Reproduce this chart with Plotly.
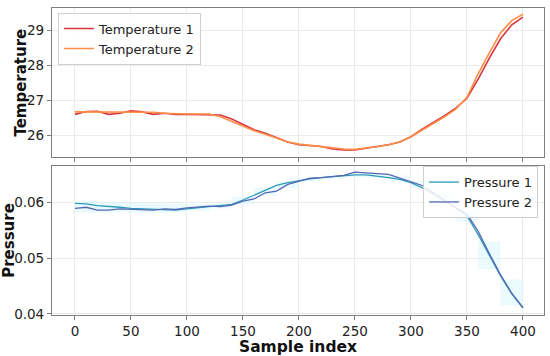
import plotly.graph_objects as go
from plotly.subplots import make_subplots

sample_idx = list(range(0, 401, 10))

temperature_1 = [26.59, 26.67, 26.68, 26.59, 26.62, 26.69, 26.66, 26.59, 26.62, 26.59,
                 26.59, 26.59, 26.59, 26.57, 26.46, 26.30, 26.15, 26.05, 25.92, 25.80,
                 25.72, 25.70, 25.67, 25.60, 25.57, 25.57, 25.62, 25.68, 25.72, 25.80,
                 25.95, 26.17, 26.35, 26.55, 26.77, 27.05, 27.60, 28.20, 28.75, 29.15,
                 29.37]
temperature_2 = [26.66, 26.66, 26.67, 26.66, 26.66, 26.67, 26.66, 26.65, 26.62, 26.60,
                 26.60, 26.60, 26.60, 26.52, 26.38, 26.24, 26.12, 26.02, 25.90, 25.80,
                 25.74, 25.70, 25.66, 25.62, 25.60, 25.59, 25.62, 25.67, 25.72, 25.80,
                 25.95, 26.15, 26.33, 26.52, 26.74, 27.08, 27.75, 28.35, 28.92, 29.27,
                 29.45]

pressure_1 = [0.0598, 0.0597, 0.0594, 0.0593, 0.0591, 0.0589, 0.0588, 0.0587, 0.0586, 0.0586,
              0.0588, 0.0590, 0.0592, 0.0593, 0.0596, 0.0604, 0.0613, 0.0622, 0.0630, 0.0635,
              0.0639, 0.0642, 0.0644, 0.0646, 0.0648, 0.0649, 0.0649, 0.0647, 0.0644, 0.0641,
              0.0635, 0.0626, 0.0615, 0.0603, 0.0590, 0.0576, 0.0542, 0.0505, 0.0468, 0.0436,
              0.0411]
pressure_2 = [0.0589, 0.0591, 0.0586, 0.0586, 0.0588, 0.0587, 0.0586, 0.0586, 0.0588, 0.0587,
              0.0590, 0.0591, 0.0593, 0.0592, 0.0595, 0.0602, 0.0606, 0.0617, 0.0620, 0.0632,
              0.0638, 0.0643, 0.0644, 0.0646, 0.0648, 0.0654, 0.0653, 0.0652, 0.0650, 0.0643,
              0.0637, 0.0630, 0.0617, 0.0604, 0.0590, 0.0579, 0.0548, 0.0508, 0.0470, 0.0437,
              0.0411]

band_idx = list(range(0, 401, 20))
band_lo = [0.0581, 0.0581, 0.0581, 0.0581, 0.0582, 0.0584, 0.0589, 0.0596, 0.0612, 0.0625,
           0.0637, 0.0642, 0.0645, 0.0644, 0.0638, 0.0626, 0.0602, 0.0565, 0.0480, 0.0415,
           0.0415]
band_hi = [0.0603, 0.0601, 0.0599, 0.0598, 0.0597, 0.0597, 0.0598, 0.0610, 0.0627, 0.0637,
           0.0644, 0.0648, 0.0651, 0.0651, 0.0648, 0.0638, 0.0618, 0.0585, 0.0530, 0.0462,
           0.0462]

x_ticks = [0, 50, 100, 150, 200, 250, 300, 350, 400]
temp_ticks = [26, 27, 28, 29]
pres_ticks = [0.04, 0.05, 0.06]
pres_tick_text = ["0.04", "0.05", "0.06"]

FONT = "DejaVu Sans"
SPINE = "#7f7f7f"
GRID = "#ebebeb"

fig = make_subplots(rows=2, cols=1, shared_xaxes=True, vertical_spacing=0.029)

fig.add_trace(go.Scatter(x=sample_idx, y=temperature_1, mode="lines", name="Temperature 1",
                         line=dict(color="#da3440", width=1.6), legend="legend"), row=1, col=1)
fig.add_trace(go.Scatter(x=sample_idx, y=temperature_2, mode="lines", name="Temperature 2",
                         line=dict(color="#fd8f45", width=1.6), legend="legend"), row=1, col=1)

fig.add_trace(go.Scatter(x=band_idx, y=band_lo, mode="lines", line=dict(width=0, shape="hv"),
                         showlegend=False, hoverinfo="skip"), row=2, col=1)
fig.add_trace(go.Scatter(x=band_idx, y=band_hi, mode="lines", line=dict(width=0, shape="hv"),
                         fill="tonexty", fillcolor="rgba(215,248,252,0.5)",
                         showlegend=False, hoverinfo="skip"), row=2, col=1)

fig.add_trace(go.Scatter(x=sample_idx, y=pressure_1, mode="lines", name="Pressure 1",
                         line=dict(color="#2a9ab8", width=1.3), legend="legend2"), row=2, col=1)
fig.add_trace(go.Scatter(x=sample_idx, y=pressure_2, mode="lines", name="Pressure 2",
                         line=dict(color="#5468b2", width=1.3), legend="legend2"), row=2, col=1)

axis_common = dict(showline=True, linecolor=SPINE, linewidth=1.2, mirror=True,
                   showgrid=True, gridcolor=GRID, gridwidth=1, zeroline=False,
                   ticks="outside", ticklen=4, tickcolor=SPINE, automargin=False,
                   tickfont=dict(family=FONT, size=13.5, color="#222"))

fig.update_xaxes(range=[-20.5, 418.8], tickvals=x_ticks, **axis_common)
fig.update_xaxes(showticklabels=False, row=1, col=1)
fig.update_xaxes(title=dict(text="Sample index", standoff=0,
                            font=dict(family=FONT, size=15.5, color="#111", weight="bold")),
                 row=2, col=1)

fig.update_yaxes(**axis_common)
fig.update_yaxes(range=[25.37, 29.63], tickvals=temp_ticks, row=1, col=1)
fig.update_yaxes(range=[0.0398, 0.0665], tickvals=pres_ticks, ticktext=pres_tick_text,
                 title=dict(text="Pressure", standoff=0,
                            font=dict(family=FONT, size=15, color="#111", weight="bold")),
                 row=2, col=1)

fig.add_annotation(text="Temperature", xref="paper", yref="paper", x=-0.063, y=0.757,
                   xanchor="center", yanchor="middle", textangle=-90, showarrow=False,
                   font=dict(family=FONT, size=15, color="#111", weight="bold"))

legend_common = dict(bgcolor="rgba(255,255,255,0.85)", bordercolor="#d0d0d0", borderwidth=1,
                     font=dict(family=FONT, size=13, color="#222"), itemwidth=30,
                     tracegroupgap=0, traceorder="normal")
fig.update_layout(
    width=550, height=356,
    margin=dict(l=52, r=6, t=8, b=41, autoexpand=False),
    paper_bgcolor="white", plot_bgcolor="white",
    showlegend=True,
    legend=dict(x=0.012, y=0.985, xanchor="left", yanchor="top", **legend_common),
    legend2=dict(x=0.988, y=0.485, xanchor="right", yanchor="top", **legend_common),
)

fig.write_html("out.html", config={"displayModeBar": False},
               post_script="document.body.style.margin='0';document.body.style.overflow='hidden';")
